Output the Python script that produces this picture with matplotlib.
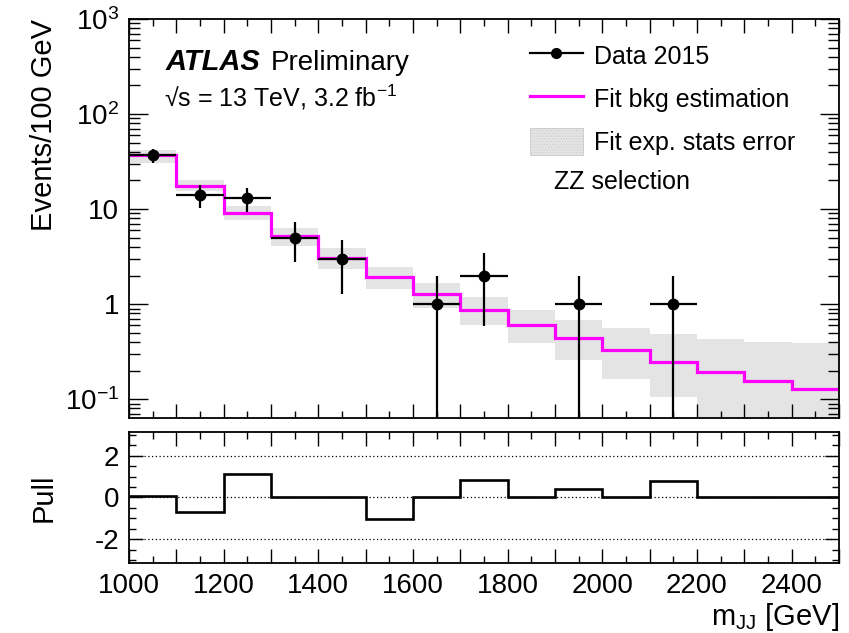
import numpy as np
import matplotlib
matplotlib.use('Agg')
import matplotlib.pyplot as plt
from matplotlib.ticker import MultipleLocator, FixedLocator, FuncFormatter, LogLocator, NullFormatter
from matplotlib.lines import Line2D
from matplotlib.patches import Patch

plt.rcParams['font.family'] = ['Liberation Sans', 'DejaVu Sans']
plt.rcParams['mathtext.fontset'] = 'custom'
plt.rcParams['mathtext.rm'] = 'Liberation Sans'
plt.rcParams['mathtext.it'] = 'Liberation Sans:italic'
plt.rcParams['mathtext.bf'] = 'Liberation Sans:bold'
plt.rcParams['axes.unicode_minus'] = False
plt.rcParams['hatch.color'] = '#a8a8a8'
plt.rcParams['hatch.linewidth'] = 0.4

# bin edges in m_JJ [GeV]
edges = np.arange(1000, 2501, 100)

# fitted background per bin and its stat error band
fit = [37.5, 17.7, 9.2, 5.17, 3.09, 1.94, 1.27, 0.865, 0.60, 0.44, 0.327, 0.248, 0.195, 0.157, 0.128]
band_hi = [42.3, 20.0, 10.9, 6.27, 3.87, 2.46, 1.66, 1.18, 0.87, 0.68, 0.56, 0.48, 0.43, 0.40, 0.39]
band_lo = [30.7, 15.4, 7.7, 4.09, 2.37, 1.44, 0.92, 0.60, 0.39, 0.26, 0.163, 0.106, 0.04, 0.04, 0.04]

# data 2015
data_x = [1050, 1150, 1250, 1350, 1450, 1650, 1750, 1950, 2150]
data_n = [37, 14, 13, 5, 3, 1, 2, 1, 1]

# pull per bin
pull = [0.05, -0.7, 1.13, 0, 0, -1.04, 0, 0.82, 0, 0.4, 0, 0.79, 0, 0, 0]

fig = plt.figure(figsize=(8.49, 6.33), dpi=100)
ax = fig.add_axes([129 / 849, 1 - 418.3 / 633, 710 / 849, 399.3 / 633])
ax2 = fig.add_axes([129 / 849, 1 - 563.3 / 633, 710 / 849, 131.6 / 633])

lo = np.array(band_lo)
hi = np.array(band_hi)
ax.bar(edges[:-1], hi - lo, bottom=lo, width=100, align='edge',
       facecolor='#e4e4e4', edgecolor='none', hatch='......', linewidth=0)
ax.stairs(fit, edges, baseline=None, color='#ff00ff', lw=2.3)

n = np.array(data_n, dtype=float)
err = np.sqrt(n)
ax.errorbar(data_x, n, xerr=50, yerr=[np.minimum(err, n - 1e-4), err], fmt='o', color='black',
            ms=7.5, lw=1.6, capsize=0)

ax.set_yscale('log')
ax.set_xlim(1000, 2500)
ax.set_ylim(0.063, 1000)


def log_label(v, pos):
    if np.isclose(v, 10):
        return '10'
    if np.isclose(v, 1):
        return '1'
    return '$\\mathregular{10^{%d}}$' % int(round(np.log10(v)))


ax.yaxis.set_major_locator(LogLocator(base=10, numticks=10))
ax.yaxis.set_minor_locator(LogLocator(base=10, subs=np.arange(2, 10), numticks=10))
ax.yaxis.set_major_formatter(FuncFormatter(log_label))
ax.yaxis.set_minor_formatter(NullFormatter())

for a in (ax, ax2):
    a.xaxis.set_major_locator(MultipleLocator(100))
    a.xaxis.set_minor_locator(MultipleLocator(50))
    a.tick_params(which='both', direction='in', top=True, right=True, width=1.0)
    a.tick_params(which='major', length=10)
    a.tick_params(which='minor', length=5)
    a.tick_params(labelsize=20, pad=7)
    for s in a.spines.values():
        s.set_linewidth(1.3)
ax.tick_params(axis='y', which='major', length=14)
ax.tick_params(axis='y', which='minor', length=8)
ax.tick_params(labelbottom=False)
ax2.xaxis.set_major_formatter(FuncFormatter(lambda v, p: '%d' % v if int(round(v)) % 200 == 0 else ''))

ax.set_ylabel('Events/100 GeV', fontsize=21, loc='top')
ax.yaxis.set_label_coords(-0.1, 1.0)

ax.text(0.052, 0.873, 'ATLAS', transform=ax.transAxes, fontsize=21, fontweight='bold',
        fontstyle='italic', va='baseline')
ax.text(0.2, 0.873, 'Preliminary', transform=ax.transAxes, fontsize=20, va='baseline')
ax.text(0.05, 0.78, '\u221as = 13 TeV, 3.2 fb$^{\\mathregular{-1}}$', transform=ax.transAxes,
        fontsize=18, va='baseline')

handles = [
    Line2D([], [], color='black', marker='o', ms=7, lw=1.6),
    Line2D([], [], color='#ff00ff', lw=2.3),
    Patch(facecolor='#e4e4e4', edgecolor='#c8c8c8', hatch='......', linewidth=0.6),
]
ax.legend(handles, ['Data 2015', 'Fit bkg estimation', 'Fit exp. stats error'],
          loc='upper left', bbox_to_anchor=(0.565, 0.942), frameon=False, fontsize=18,
          handlelength=2.1, handleheight=1.25, handletextpad=0.45, labelspacing=0.66,
          borderpad=0, borderaxespad=0)
ax.text(0.598, 0.575, 'ZZ selection', transform=ax.transAxes, fontsize=18, va='baseline')

# pull panel
ax2.stairs(pull, edges, baseline=None, color='black', lw=1.9)
for yv in (2, 0, -2):
    ax2.axhline(yv, color='black', ls=(0, (1, 2)), lw=0.9)
ax2.set_xlim(1000, 2500)
ax2.set_ylim(-3.15, 3.15)
ax2.yaxis.set_major_locator(FixedLocator([-2, 0, 2]))
ax2.yaxis.set_minor_locator(MultipleLocator(0.5))
ax2.set_ylabel('Pull', fontsize=21)
ax2.yaxis.set_label_coords(-0.1, 0.5)
ax2.set_xlabel('m$_{\\mathregular{JJ}}$ [GeV]', fontsize=21, loc='right')
ax2.xaxis.set_label_coords(1.0, -0.285)

fig.savefig('out.png', dpi=100)
